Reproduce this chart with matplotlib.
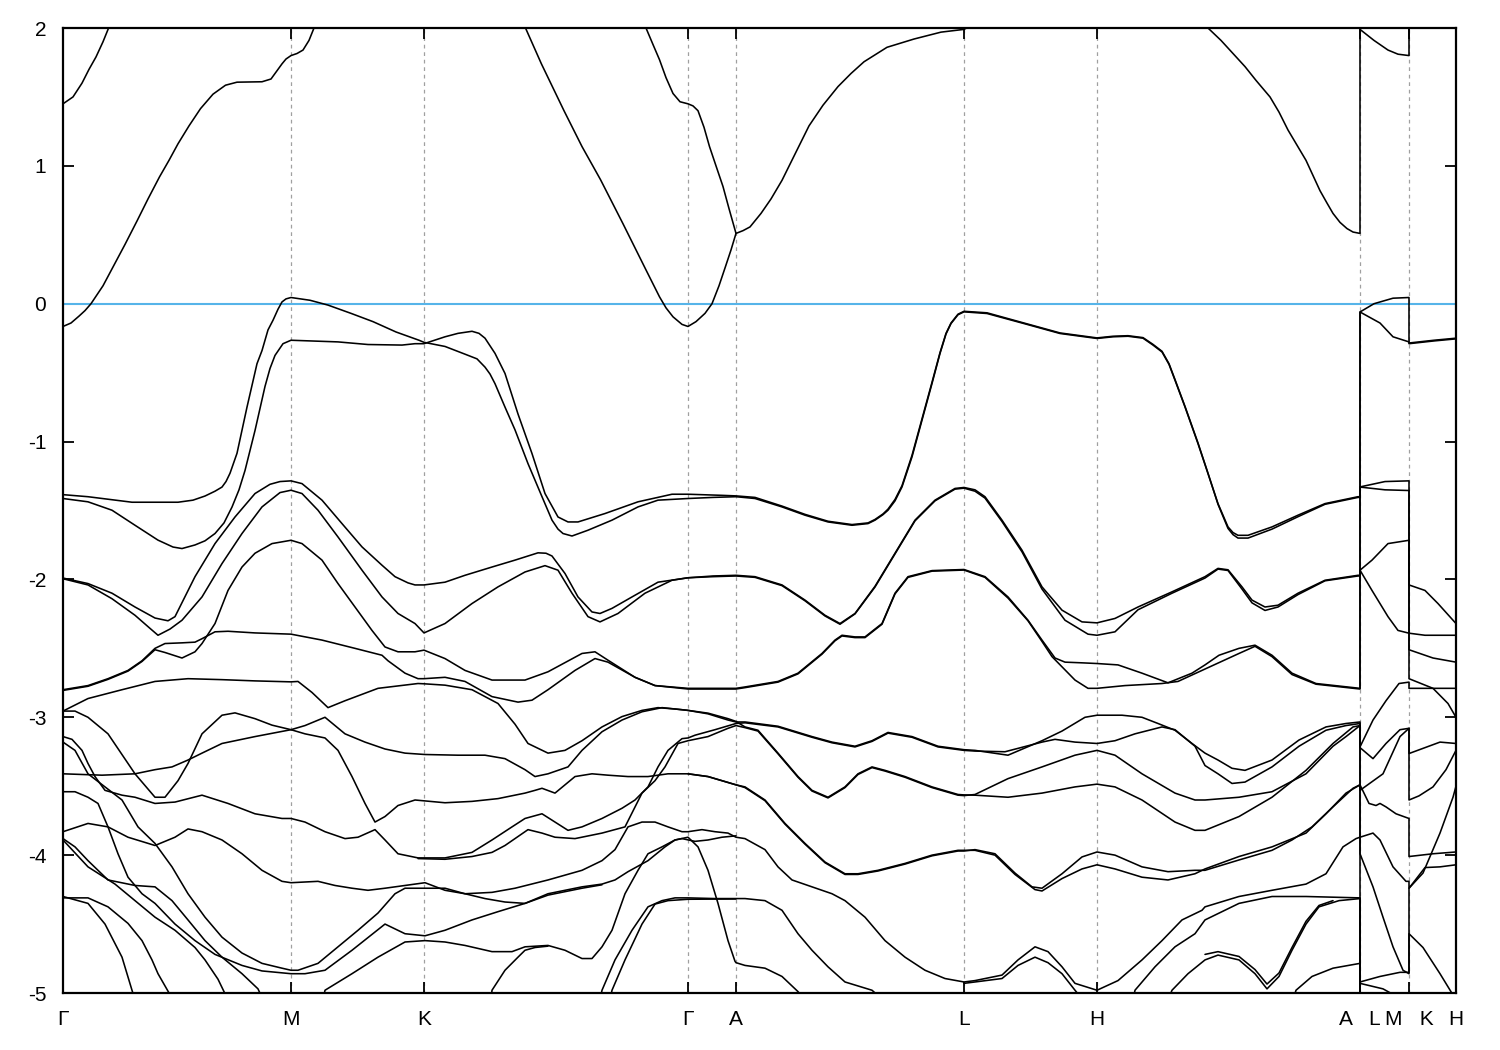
import numpy as np
import matplotlib
matplotlib.use("Agg")
import matplotlib.pyplot as plt

plt.rcParams['font.family'] = ['Liberation Sans', 'DejaVu Sans']

# high-symmetry points along the path (path-length units) and their labels
kpts = [0.0, 2.28, 3.61, 6.25, 6.73, 9.01, 10.34, 12.97, 13.46, 13.93]
klabels = ['Γ', 'M', 'K', 'Γ', 'A', 'L', 'H', 'A   L', 'M   K', 'H']
yticks = [-5, -4, -3, -2, -1, 0, 1, 2]
fermi = 0.0

# ---- band curves: (k, E[eV]) ----
cb0 = [(0, 1.45), (0.10, 1.50), (0.19, 1.60), (0.26, 1.70), (0.33, 1.79), (0.40, 1.90), (0.456, 2.0), (0.52, 2.15)]
cb1 = [(0, -0.165), (0.08, -0.14), (0.16, -0.09), (0.22, -0.05), (0.28, 0.0), (0.40, 0.13), (0.51, 0.28),
       (0.62, 0.43), (0.74, 0.60), (0.85, 0.76), (0.965, 0.92), (1.06, 1.04), (1.15, 1.16), (1.26, 1.29),
       (1.375, 1.415), (1.50, 1.52), (1.625, 1.585), (1.74, 1.607), (1.99, 1.61), (2.08, 1.63), (2.14, 1.69),
       (2.19, 1.74), (2.23, 1.775), (2.28, 1.80), (2.34, 1.815), (2.40, 1.84), (2.46, 1.91), (2.51, 2.0),
       (2.56, 2.2)]
cb2 = [(4.55, 2.2), (4.625, 2.0), (4.784, 1.74), (5.01, 1.40), (5.19, 1.14), (5.375, 0.90), (5.60, 0.58),
       (5.83, 0.245), (5.965, 0.05), (6.03, -0.03), (6.10, -0.095), (6.19, -0.15), (6.25, -0.165), (6.33, -0.13),
       (6.42, -0.07), (6.49, 0.0), (6.56, 0.13), (6.625, 0.27), (6.68, 0.39), (6.73, 0.51), (6.80, 0.53),
       (6.87, 0.557), (6.98, 0.655), (7.08, 0.76), (7.19, 0.895), (7.33, 1.10), (7.46, 1.29), (7.60, 1.44),
       (7.75, 1.575), (7.88, 1.67), (8.01, 1.755), (8.24, 1.86), (8.51, 1.92), (8.78, 1.97), (9.01, 1.99),
       (9.3, 2.1)]
cb3 = [(5.80, 2.2), (5.83, 2.0), (5.90, 1.88), (5.965, 1.77), (6.03, 1.64), (6.10, 1.525), (6.17, 1.465),
       (6.25, 1.45), (6.30, 1.435), (6.35, 1.40), (6.41, 1.28), (6.465, 1.14), (6.53, 1.00), (6.60, 0.85),
       (6.66, 0.69), (6.73, 0.51)]
cb4 = [(11.40, 2.2), (11.45, 2.0), (11.58, 1.91), (11.70, 1.815), (11.82, 1.72), (11.93, 1.62), (12.07, 1.50),
       (12.16, 1.39), (12.25, 1.26), (12.34, 1.15), (12.43, 1.04), (12.50, 0.93), (12.57, 0.82), (12.64, 0.73),
       (12.70, 0.655), (12.77, 0.59), (12.84, 0.545), (12.90, 0.52), (12.97, 0.51), (12.97, 1.99), (13.11, 1.91),
       (13.25, 1.84), (13.35, 1.81), (13.46, 1.80), (13.46, 2.3)]

vb1 = [(0, -1.385), (0.25, -1.40), (0.69, -1.44), (1.15, -1.44), (1.30, -1.425), (1.42, -1.395), (1.52, -1.36),
       (1.59, -1.33), (1.63, -1.29), (1.67, -1.23), (1.74, -1.085), (1.84, -0.75), (1.94, -0.435),
       (1.99, -0.34), (2.05, -0.19), (2.10, -0.12), (2.15, -0.04), (2.19, 0.013), (2.23, 0.035), (2.28, 0.045),
       (2.47, 0.025), (2.65, -0.01), (2.88, -0.07), (3.10, -0.13), (3.33, -0.205), (3.56, -0.265),
       (3.61, -0.28), (3.82, -0.31), (4.02, -0.366), (4.14, -0.40), (4.22, -0.46), (4.27, -0.51), (4.32, -0.58),
       (4.42, -0.75), (4.52, -0.915), (4.65, -1.16), (4.79, -1.40), (4.89, -1.57), (4.95, -1.635), (5.00, -1.667),
       (5.09, -1.685), (5.25, -1.643), (5.49, -1.57), (5.75, -1.474), (5.95, -1.425), (6.25, -1.413),
       (6.50, -1.405), (6.73, -1.40), (6.92, -1.413), (7.19, -1.474), (7.42, -1.534), (7.65, -1.583),
       (7.89, -1.607), (8.05, -1.595), (8.12, -1.57), (8.20, -1.53), (8.25, -1.498), (8.32, -1.43),
       (8.39, -1.329), (8.49, -1.111), (8.59, -0.845), (8.69, -0.579), (8.77, -0.361), (8.83, -0.22),
       (8.88, -0.144), (8.95, -0.08), (9.01, -0.059), (9.24, -0.071), (9.61, -0.144), (9.97, -0.216),
       (10.34, -0.252), (10.50, -0.24), (10.65, -0.236), (10.80, -0.25), (10.90, -0.30), (10.99, -0.35),
       (11.06, -0.44), (11.12, -0.555), (11.22, -0.749), (11.35, -1.015), (11.45, -1.232), (11.55, -1.45),
       (11.65, -1.619), (11.70, -1.66), (11.75, -1.68), (11.85, -1.68), (12.09, -1.619), (12.35, -1.534),
       (12.62, -1.45), (12.95, -1.40), (12.97, -1.40), (12.97, -0.06), (13.11, 0.0), (13.30, 0.04),
       (13.46, 0.045), (13.46, -0.285), (13.71, -0.265), (13.93, -0.25)]
vb2 = [(0, -1.413), (0.25, -1.437), (0.49, -1.498), (0.72, -1.607), (0.95, -1.715), (1.10, -1.765), (1.19, -1.776),
       (1.32, -1.75), (1.42, -1.72), (1.52, -1.667), (1.61, -1.59), (1.69, -1.475), (1.76, -1.35), (1.82, -1.21),
       (1.92, -0.92), (2.02, -0.60), (2.07, -0.47), (2.12, -0.375), (2.20, -0.29), (2.28, -0.265),
       (2.75, -0.277), (3.05, -0.296), (3.39, -0.30), (3.52, -0.29), (3.61, -0.29), (3.82, -0.24), (3.95, -0.215),
       (4.09, -0.20), (4.16, -0.215), (4.22, -0.25), (4.32, -0.36), (4.42, -0.506), (4.55, -0.80), (4.69, -1.087),
       (4.82, -1.377), (4.95, -1.547), (5.05, -1.583), (5.15, -1.583), (5.42, -1.522), (5.75, -1.437),
       (6.09, -1.382), (6.25, -1.382), (6.59, -1.39), (6.73, -1.394), (6.92, -1.405), (7.19, -1.468),
       (7.42, -1.528), (7.65, -1.578), (7.89, -1.602), (8.05, -1.59), (8.12, -1.565), (8.20, -1.525),
       (8.25, -1.49), (8.32, -1.42), (8.39, -1.32), (8.49, -1.10), (8.59, -0.835), (8.69, -0.57), (8.77, -0.355),
       (8.83, -0.215), (8.88, -0.14), (8.95, -0.076), (9.01, -0.055), (9.24, -0.066), (9.61, -0.14),
       (9.97, -0.212), (10.34, -0.248), (10.50, -0.236), (10.65, -0.232), (10.80, -0.246), (10.90, -0.295),
       (10.99, -0.345), (11.06, -0.435), (11.12, -0.55), (11.22, -0.745), (11.35, -1.01), (11.45, -1.23),
       (11.55, -1.455), (11.65, -1.63), (11.70, -1.675), (11.75, -1.70), (11.85, -1.70), (12.09, -1.635),
       (12.35, -1.545), (12.62, -1.455), (12.95, -1.405), (12.97, -1.405), (12.97, -0.06), (13.17, -0.14),
       (13.30, -0.24), (13.46, -0.277), (13.46, -0.29), (13.71, -0.27), (13.93, -0.255)]

d1 = [(0, -1.99), (0.25, -2.03), (0.49, -2.10), (0.72, -2.20), (0.92, -2.28), (1.05, -2.30), (1.12, -2.27),
      (1.32, -1.98), (1.52, -1.74), (1.72, -1.547), (1.92, -1.377), (2.07, -1.31), (2.17, -1.29), (2.28, -1.285),
      (2.39, -1.305), (2.59, -1.425), (2.79, -1.595), (2.99, -1.764), (3.19, -1.897), (3.32, -1.98),
      (3.45, -2.025), (3.52, -2.04), (3.61, -2.04), (3.82, -2.02), (4.02, -1.97), (4.29, -1.91), (4.52, -1.86),
      (4.75, -1.807), (4.83, -1.81), (4.89, -1.83), (5.02, -1.957), (5.15, -2.127), (5.29, -2.236),
      (5.37, -2.247), (5.49, -2.21), (5.69, -2.127), (5.95, -2.02), (6.25, -1.988), (6.50, -1.975),
      (6.73, -1.97), (6.92, -1.98), (7.19, -2.04), (7.42, -2.15), (7.62, -2.26), (7.77, -2.32), (7.92, -2.247),
      (8.12, -2.05), (8.32, -1.81), (8.52, -1.57), (8.72, -1.425), (8.92, -1.34), (9.01, -1.333),
      (9.12, -1.35), (9.22, -1.40), (9.39, -1.57), (9.59, -1.788), (9.79, -2.054), (9.99, -2.223),
      (10.19, -2.308), (10.34, -2.315), (10.52, -2.283), (10.75, -2.2), (11.09, -2.09), (11.42, -1.98),
      (11.55, -1.92), (11.65, -1.93), (11.79, -2.054), (11.89, -2.15), (12.02, -2.2), (12.15, -2.187),
      (12.35, -2.10), (12.62, -2.006), (12.95, -1.97), (12.97, -1.97), (12.97, -1.329), (13.22, -1.29),
      (13.46, -1.285), (13.46, -2.04), (13.62, -2.08), (13.75, -2.175), (13.93, -2.32)]
d2 = [(0, -1.995), (0.25, -2.04), (0.49, -2.14), (0.72, -2.26), (0.87, -2.355), (0.95, -2.405), (1.07, -2.36),
      (1.19, -2.296), (1.39, -2.127), (1.59, -1.885), (1.79, -1.667), (1.99, -1.474), (2.17, -1.37),
      (2.28, -1.353), (2.39, -1.377), (2.55, -1.498), (2.75, -1.692), (2.99, -1.933), (3.19, -2.127),
      (3.35, -2.247), (3.52, -2.32), (3.61, -2.388), (3.82, -2.32), (4.09, -2.175), (4.35, -2.054),
      (4.62, -1.946), (4.82, -1.90), (4.95, -1.933), (5.09, -2.10), (5.25, -2.27), (5.37, -2.308),
      (5.55, -2.247), (5.82, -2.10), (6.09, -2.006), (6.25, -1.988), (6.50, -1.98), (6.73, -1.975),
      (6.92, -1.985), (7.19, -2.045), (7.42, -2.155), (7.62, -2.265), (7.77, -2.325), (7.92, -2.25),
      (8.12, -2.055), (8.32, -1.815), (8.52, -1.575), (8.72, -1.43), (8.92, -1.345), (9.01, -1.338),
      (9.12, -1.36), (9.22, -1.41), (9.39, -1.58), (9.59, -1.80), (9.79, -2.07), (10.02, -2.296),
      (10.25, -2.397), (10.34, -2.405), (10.52, -2.38), (10.75, -2.22), (11.09, -2.10), (11.42, -1.99),
      (11.55, -1.925), (11.65, -1.935), (11.79, -2.07), (11.89, -2.17), (12.02, -2.225), (12.15, -2.20),
      (12.35, -2.11), (12.62, -2.01), (12.95, -1.975), (12.97, -1.975), (12.97, -1.33), (13.22, -1.35),
      (13.46, -1.355), (13.46, -2.39), (13.62, -2.405), (13.93, -2.405)]

f1 = [(0, -2.80), (0.25, -2.77), (0.45, -2.72), (0.65, -2.66), (0.79, -2.59), (0.92, -2.50), (1.02, -2.465),
      (1.19, -2.46), (1.32, -2.455), (1.39, -2.43), (1.52, -2.38), (1.65, -2.376), (1.92, -2.388), (2.28, -2.397),
      (2.59, -2.44), (2.92, -2.50), (3.19, -2.55), (3.25, -2.59), (3.42, -2.68), (3.55, -2.72), (3.61, -2.72),
      (3.82, -2.71), (4.02, -2.74), (4.29, -2.85), (4.55, -2.89), (4.69, -2.876), (4.85, -2.80), (5.12, -2.66),
      (5.32, -2.574), (5.45, -2.60), (5.72, -2.71), (5.92, -2.77), (6.25, -2.79), (6.73, -2.79), (6.82, -2.78),
      (7.15, -2.74), (7.35, -2.68), (7.59, -2.537), (7.72, -2.44), (7.79, -2.405), (7.92, -2.417),
      (8.02, -2.417), (8.19, -2.32), (8.32, -2.10), (8.45, -1.98), (8.69, -1.936), (9.01, -1.928), (9.22, -1.98),
      (9.45, -2.127), (9.65, -2.296), (9.79, -2.44), (9.92, -2.57), (10.02, -2.60), (10.19, -2.605),
      (10.34, -2.61), (10.55, -2.62), (10.79, -2.68), (11.05, -2.75), (11.29, -2.68), (11.42, -2.62),
      (11.56, -2.55), (11.76, -2.50), (11.92, -2.477), (12.09, -2.55), (12.29, -2.68), (12.53, -2.755),
      (12.97, -2.79), (12.97, -1.933), (13.09, -1.86), (13.25, -1.74), (13.46, -1.716), (13.46, -2.51),
      (13.70, -2.57), (13.93, -2.60)]
f2 = [(0, -2.805), (0.25, -2.775), (0.45, -2.725), (0.65, -2.665), (0.79, -2.595), (0.92, -2.51), (1.02, -2.53),
      (1.19, -2.57), (1.32, -2.525), (1.39, -2.465), (1.52, -2.32), (1.65, -2.08), (1.79, -1.91), (1.92, -1.81),
      (2.09, -1.74), (2.28, -1.716), (2.39, -1.74), (2.59, -1.86), (2.75, -2.03), (2.92, -2.2), (3.09, -2.37),
      (3.22, -2.49), (3.35, -2.525), (3.52, -2.525), (3.61, -2.513), (3.82, -2.574), (4.02, -2.66),
      (4.29, -2.73), (4.62, -2.73), (4.85, -2.67), (5.19, -2.537), (5.32, -2.525), (5.45, -2.586),
      (5.72, -2.71), (5.92, -2.77), (6.25, -2.795), (6.73, -2.795), (6.82, -2.785), (7.15, -2.745),
      (7.35, -2.685), (7.59, -2.542), (7.72, -2.445), (7.79, -2.41), (7.92, -2.422), (8.02, -2.422),
      (8.19, -2.325), (8.32, -2.105), (8.45, -1.985), (8.69, -1.94), (9.01, -1.932), (9.22, -1.985),
      (9.45, -2.135), (9.65, -2.30), (9.79, -2.45), (9.89, -2.56), (10.12, -2.73), (10.25, -2.79),
      (10.34, -2.79), (10.62, -2.77), (10.99, -2.755), (11.15, -2.74), (11.42, -2.65), (11.76, -2.537),
      (11.92, -2.485), (12.09, -2.56), (12.29, -2.69), (12.53, -2.76), (12.97, -2.795), (12.97, -1.933),
      (13.09, -2.08), (13.25, -2.27), (13.35, -2.37), (13.46, -2.39), (13.46, -2.72), (13.70, -2.79),
      (13.85, -2.90), (13.93, -3.0)]

h1 = [(0, -2.955), (0.25, -2.864), (0.59, -2.80), (0.92, -2.74), (1.25, -2.72), (1.59, -2.727), (1.92, -2.736),
      (2.28, -2.743), (2.35, -2.74), (2.49, -2.82), (2.65, -2.93), (2.82, -2.88), (3.15, -2.79), (3.55, -2.755),
      (3.61, -2.757), (3.82, -2.767), (4.09, -2.80), (4.35, -2.90), (4.52, -3.05), (4.65, -3.19), (4.85, -3.26),
      (5.02, -3.24), (5.19, -3.17), (5.39, -3.07), (5.59, -2.995), (5.79, -2.95), (5.95, -2.93), (6.12, -2.94),
      (6.25, -2.95), (6.45, -2.975), (6.65, -3.02), (6.73, -3.034), (6.82, -3.034), (7.15, -3.065),
      (7.49, -3.14), (7.69, -3.18), (7.92, -3.21), (8.09, -3.17), (8.25, -3.11), (8.49, -3.14), (8.75, -3.21),
      (9.01, -3.235), (9.12, -3.24), (9.45, -3.275), (9.79, -3.17), (9.99, -3.10), (10.22, -3.0),
      (10.34, -2.985), (10.59, -2.985), (10.79, -3.0), (10.95, -3.045), (11.12, -3.094), (11.29, -3.19),
      (11.42, -3.26), (11.55, -3.31), (11.69, -3.37), (11.82, -3.385), (12.09, -3.31), (12.36, -3.165),
      (12.63, -3.07), (12.83, -3.045), (12.97, -3.034), (12.97, -3.215), (13.10, -3.02), (13.23, -2.88),
      (13.36, -2.755), (13.46, -2.745), (13.46, -2.79), (13.93, -2.79)]
h2 = [(0, -2.955), (0.12, -2.955), (0.25, -3.0), (0.45, -3.12), (0.72, -3.41), (0.92, -3.58), (1.02, -3.58),
      (1.15, -3.46), (1.25, -3.335), (1.39, -3.12), (1.59, -2.985), (1.72, -2.968), (1.92, -3.01), (2.09, -3.057),
      (2.28, -3.09), (2.42, -3.06), (2.62, -3.00), (2.82, -3.12), (3.02, -3.18), (3.22, -3.23), (3.42, -3.26),
      (3.62, -3.27), (3.95, -3.275), (4.22, -3.275), (4.42, -3.30), (4.62, -3.38), (4.72, -3.43), (4.85, -3.41),
      (5.05, -3.36), (5.19, -3.24), (5.39, -3.105), (5.59, -3.02), (5.79, -2.96), (5.99, -2.93), (6.19, -2.945),
      (6.25, -2.95), (6.45, -2.97), (6.65, -3.01), (6.73, -3.03), (6.82, -3.07), (6.95, -3.094), (7.15, -3.26),
      (7.35, -3.43), (7.49, -3.53), (7.65, -3.58), (7.82, -3.505), (7.95, -3.41), (8.09, -3.36), (8.22, -3.385),
      (8.42, -3.43), (8.69, -3.505), (8.95, -3.56), (9.01, -3.563), (9.12, -3.565), (9.45, -3.58),
      (9.79, -3.55), (10.12, -3.505), (10.34, -3.485), (10.52, -3.505), (10.79, -3.60), (11.12, -3.76),
      (11.32, -3.82), (11.42, -3.82), (11.76, -3.72), (12.09, -3.58), (12.43, -3.385), (12.70, -3.19),
      (12.90, -3.07), (12.97, -3.06), (12.97, -3.22), (13.10, -3.30), (13.23, -3.19), (13.37, -3.09),
      (13.46, -3.08), (13.46, -3.263), (13.77, -3.18), (13.93, -3.19)]
h3 = [(0, -3.41), (0.39, -3.42), (0.72, -3.41), (0.92, -3.38), (1.09, -3.36), (1.25, -3.31), (1.39, -3.26),
      (1.59, -3.19), (1.92, -3.14), (2.28, -3.09), (2.42, -3.12), (2.62, -3.15), (2.75, -3.24), (2.89, -3.43),
      (3.02, -3.625), (3.12, -3.76), (3.22, -3.72), (3.35, -3.64), (3.52, -3.60), (3.82, -3.62), (4.09, -3.61),
      (4.35, -3.59), (4.62, -3.55), (4.72, -3.53), (4.79, -3.515), (4.92, -3.55), (5.12, -3.43), (5.29, -3.41),
      (5.45, -3.42), (5.65, -3.43), (5.85, -3.43), (6.05, -3.41), (6.25, -3.41), (6.45, -3.43), (6.73, -3.49),
      (6.82, -3.505), (7.02, -3.60), (7.22, -3.77), (7.42, -3.915), (7.62, -4.05), (7.82, -4.135),
      (7.95, -4.135), (8.15, -4.11), (8.42, -4.06), (8.69, -4.0), (8.95, -3.965), (9.01, -3.965),
      (9.12, -3.965), (9.32, -4.0), (9.52, -4.14), (9.72, -4.25), (9.79, -4.26), (9.99, -4.17), (10.19, -4.10),
      (10.34, -4.07), (10.52, -4.10), (10.79, -4.16), (11.05, -4.18), (11.32, -4.135), (11.42, -4.10),
      (11.76, -4.01), (12.09, -3.94), (12.43, -3.84), (12.63, -3.70), (12.83, -3.55), (12.97, -3.49),
      (12.97, -3.87), (13.10, -3.84), (13.17, -3.89), (13.30, -4.085), (13.43, -4.19), (13.46, -4.19),
      (13.46, -4.24), (13.60, -4.13), (13.77, -3.84), (13.90, -3.58), (13.93, -3.50)]
h4 = [(0, -3.14), (0.09, -3.16), (0.19, -3.24), (0.25, -3.335), (0.32, -3.43), (0.42, -3.53), (0.59, -3.565),
      (0.72, -3.58), (0.92, -3.625), (1.12, -3.615), (1.39, -3.565), (1.65, -3.625), (1.92, -3.70),
      (2.19, -3.734), (2.28, -3.734), (2.42, -3.76), (2.62, -3.83), (2.82, -3.88), (2.95, -3.87), (3.12, -3.815),
      (3.22, -3.89), (3.35, -3.99), (3.55, -4.02), (3.82, -4.02), (4.09, -3.98), (4.29, -3.89), (4.49, -3.795),
      (4.62, -3.734), (4.69, -3.72), (4.79, -3.70), (4.92, -3.76), (5.05, -3.82), (5.19, -3.795), (5.39, -3.734),
      (5.59, -3.66), (5.72, -3.60), (5.85, -3.505), (5.95, -3.36), (6.05, -3.24), (6.19, -3.155), (6.25, -3.15),
      (6.32, -3.13), (6.52, -3.09), (6.73, -3.045), (6.82, -3.04), (7.15, -3.07), (7.49, -3.145), (7.69, -3.185),
      (7.92, -3.215), (8.09, -3.175), (8.25, -3.115), (8.49, -3.145), (8.75, -3.215), (9.01, -3.24),
      (9.12, -3.245), (9.42, -3.25), (9.79, -3.18), (9.92, -3.16), (10.12, -3.18), (10.34, -3.19),
      (10.52, -3.17), (10.72, -3.12), (10.99, -3.07), (11.12, -3.09), (11.32, -3.21), (11.42, -3.35),
      (11.55, -3.41), (11.69, -3.48), (11.82, -3.47), (12.09, -3.36), (12.36, -3.21), (12.63, -3.094),
      (12.83, -3.06), (12.97, -3.045), (12.97, -3.49), (13.06, -3.625), (13.13, -3.64), (13.17, -3.625),
      (13.23, -3.65), (13.33, -3.70), (13.46, -3.734), (13.46, -4.01), (13.70, -3.99), (13.93, -3.977)]
h5 = [(3.55, -4.025), (3.82, -4.03), (4.09, -4.01), (4.29, -3.98), (4.42, -3.93), (4.52, -3.88), (4.65, -3.815),
      (4.79, -3.84), (4.92, -3.87), (5.12, -3.88), (5.39, -3.84), (5.62, -3.795), (5.79, -3.55), (5.92, -3.46),
      (6.02, -3.36), (6.15, -3.19), (6.25, -3.17), (6.45, -3.14), (6.65, -3.08), (6.73, -3.06), (6.82, -3.075),
      (6.95, -3.10), (7.15, -3.265), (7.35, -3.435), (7.49, -3.535), (7.65, -3.585), (7.82, -3.51),
      (7.95, -3.415), (8.09, -3.365), (8.22, -3.39), (8.42, -3.435), (8.69, -3.51), (8.95, -3.565),
      (9.01, -3.568), (9.12, -3.56), (9.45, -3.445), (9.79, -3.36), (10.12, -3.275), (10.34, -3.24),
      (10.52, -3.275), (10.79, -3.41), (11.12, -3.55), (11.32, -3.60), (11.42, -3.60), (11.76, -3.58),
      (12.09, -3.54), (12.43, -3.41), (12.70, -3.21), (12.83, -3.14), (12.97, -3.06), (12.97, -3.53),
      (13.20, -3.41), (13.37, -3.14), (13.46, -3.08), (13.46, -3.60), (13.56, -3.57), (13.70, -3.505),
      (13.83, -3.38), (13.93, -3.24)]
h6 = [(6.25, -3.41), (6.45, -3.43), (6.73, -3.49), (6.82, -3.51), (7.02, -3.605), (7.22, -3.775), (7.42, -3.92),
      (7.62, -4.055), (7.82, -4.14), (7.95, -4.14), (8.15, -4.115), (8.42, -4.065), (8.69, -4.005),
      (8.95, -3.97), (9.01, -3.97), (9.12, -3.96), (9.32, -3.99), (9.52, -4.13), (9.69, -4.23), (9.79, -4.24),
      (9.99, -4.135), (10.19, -4.013), (10.34, -3.977), (10.52, -4.0), (10.79, -4.085), (11.05, -4.12),
      (11.32, -4.11), (11.42, -4.11), (11.76, -4.035), (12.09, -3.965), (12.29, -3.89), (12.49, -3.795),
      (12.70, -3.65), (12.90, -3.515), (12.97, -3.49), (12.97, -3.99), (13.10, -4.23), (13.20, -4.45),
      (13.30, -4.665), (13.40, -4.835), (13.46, -4.86), (13.46, -4.24), (13.62, -4.09), (13.77, -4.085),
      (13.93, -4.07)]

j1 = [(0, -3.83), (0.25, -3.77), (0.45, -3.795), (0.65, -3.87), (0.92, -3.93), (1.12, -3.87), (1.25, -3.81),
      (1.39, -3.83), (1.59, -3.89), (1.79, -3.99), (1.99, -4.11), (2.19, -4.19), (2.28, -4.20), (2.55, -4.19),
      (2.72, -4.22), (2.89, -4.24), (3.05, -4.255), (3.22, -4.24), (3.42, -4.22), (3.62, -4.20), (3.82, -4.255),
      (4.02, -4.28), (4.29, -4.27), (4.52, -4.24), (4.85, -4.18), (5.19, -4.11), (5.39, -4.04), (5.52, -3.96),
      (5.65, -3.795), (5.79, -3.76), (5.92, -3.76), (6.05, -3.795), (6.19, -3.83), (6.25, -3.83), (6.39, -3.815),
      (6.52, -3.83), (6.65, -3.84), (6.73, -3.87), (6.82, -3.88), (7.02, -3.96), (7.15, -4.085), (7.29, -4.18),
      (7.49, -4.23), (7.69, -4.28), (7.82, -4.33), (8.02, -4.45), (8.22, -4.62), (8.42, -4.74), (8.62, -4.835),
      (8.82, -4.895), (9.01, -4.92), (9.12, -4.91), (9.39, -4.87), (9.55, -4.76), (9.72, -4.665), (9.85, -4.70),
      (9.99, -4.81), (10.12, -4.93), (10.34, -4.98), (10.55, -4.91), (10.79, -4.76), (10.99, -4.62),
      (11.19, -4.47), (11.39, -4.40), (11.42, -4.375), (11.76, -4.30), (12.09, -4.255), (12.43, -4.21),
      (12.63, -4.135), (12.80, -3.94), (12.93, -3.88), (12.97, -3.87), (12.97, -4.92), (13.17, -4.88),
      (13.37, -4.85), (13.46, -4.85), (13.46, -4.57), (13.60, -4.67), (13.77, -4.86), (13.93, -5.05)]
j2 = [(9.01, -4.93), (9.12, -4.92), (9.39, -4.895), (9.55, -4.80), (9.72, -4.74), (9.85, -4.78), (9.99, -4.86),
      (10.12, -4.98), (10.2, -5.05)]
j3 = [(10.70, -5.05), (10.72, -4.98), (10.92, -4.81), (11.12, -4.665), (11.32, -4.57), (11.42, -4.47),
      (11.76, -4.35), (12.09, -4.30), (12.43, -4.30), (12.97, -4.31), (12.97, -4.93), (13.20, -4.97),
      (13.40, -5.05)]
j4 = [(11.05, -5.05), (11.09, -4.98), (11.25, -4.86), (11.42, -4.76), (11.55, -4.725), (11.76, -4.76),
      (11.92, -4.86), (12.04, -4.97), (12.16, -4.88), (12.29, -4.69), (12.43, -4.50), (12.56, -4.375),
      (12.76, -4.33), (12.97, -4.315), (12.97, -5.05)]
j5 = [(11.42, -4.72), (11.55, -4.70), (11.76, -4.735), (11.92, -4.83), (12.04, -4.935), (12.16, -4.855),
      (12.29, -4.67), (12.43, -4.48), (12.56, -4.365), (12.70, -4.33)]
j6 = [(12.30, -5.05), (12.33, -4.98), (12.49, -4.88), (12.70, -4.82), (12.97, -4.785), (12.97, -5.05)]

k1 = [(5.37, -5.05), (5.39, -4.98), (5.52, -4.76), (5.69, -4.545), (5.85, -4.375), (5.99, -4.33), (6.12, -4.31),
      (6.25, -4.31), (6.52, -4.315), (6.73, -4.315), (6.82, -4.315), (7.02, -4.33), (7.19, -4.40), (7.35, -4.57),
      (7.49, -4.69), (7.65, -4.81), (7.82, -4.92), (8.09, -4.98), (8.2, -5.05)]
k2 = [(5.47, -5.05), (5.49, -4.98), (5.62, -4.76), (5.79, -4.50), (5.92, -4.355), (6.05, -4.33), (6.25, -4.32),
      (6.73, -4.318)]
s3 = [(2.60, -5.05), (2.62, -4.98), (2.89, -4.86), (3.15, -4.74), (3.42, -4.63), (3.62, -4.62), (3.82, -4.63),
      (4.02, -4.655), (4.29, -4.70), (4.49, -4.70), (4.62, -4.665), (4.85, -4.655), (5.02, -4.69), (5.19, -4.75),
      (5.29, -4.75), (5.39, -4.665), (5.49, -4.545), (5.62, -4.28), (5.75, -4.11), (5.85, -3.99), (5.99, -3.94),
      (6.12, -3.89), (6.25, -3.87), (6.35, -3.94), (6.45, -4.11), (6.55, -4.35), (6.65, -4.62), (6.72, -4.77),
      (6.73, -4.78), (6.82, -4.80), (7.02, -4.82), (7.19, -4.88), (7.35, -4.99), (7.42, -5.05)]
s8 = [(4.28, -5.05), (4.29, -4.98), (4.42, -4.835), (4.55, -4.74), (4.62, -4.69), (4.72, -4.67), (4.85, -4.66)]
s1 = [(0, -3.18), (0.12, -3.24), (0.25, -3.41), (0.42, -3.505), (0.59, -3.60), (0.75, -3.795), (0.92, -3.915),
      (1.09, -4.085), (1.25, -4.28), (1.42, -4.45), (1.59, -4.595), (1.79, -4.71), (1.99, -4.785), (2.19, -4.82),
      (2.28, -4.835), (2.35, -4.835), (2.55, -4.785), (2.75, -4.665), (2.95, -4.545), (3.15, -4.42),
      (3.32, -4.28), (3.42, -4.24), (3.62, -4.24), (3.82, -4.24), (4.02, -4.28), (4.22, -4.315), (4.42, -4.34),
      (4.62, -4.35), (4.85, -4.28), (5.19, -4.23), (5.39, -4.21), (5.52, -4.18), (5.65, -4.12), (5.85, -4.04),
      (6.02, -3.94), (6.12, -3.89), (6.19, -3.88), (6.32, -3.90), (6.45, -3.89), (6.59, -3.87), (6.73, -3.86)]
s4 = [(0, -3.54), (0.12, -3.54), (0.25, -3.58), (0.35, -3.625), (0.45, -3.795), (0.55, -3.99), (0.65, -4.16),
      (0.79, -4.28), (0.92, -4.35), (1.12, -4.50), (1.32, -4.62), (1.52, -4.72), (1.79, -4.80), (1.99, -4.84),
      (2.28, -4.86), (2.42, -4.86), (2.62, -4.835), (2.89, -4.69), (3.22, -4.50), (3.42, -4.57), (3.62, -4.585),
      (3.82, -4.545), (4.09, -4.47), (4.35, -4.41), (4.62, -4.35), (4.85, -4.29), (5.19, -4.24), (5.39, -4.215)]
s2 = [(0, -3.88), (0.12, -3.94), (0.25, -4.04), (0.45, -4.18), (0.72, -4.22), (0.92, -4.23), (1.09, -4.33),
      (1.25, -4.47), (1.42, -4.62), (1.59, -4.74), (1.79, -4.86), (1.95, -4.97), (2.0, -5.05)]
s5 = [(0, -3.89), (0.25, -4.085), (0.52, -4.21), (0.72, -4.33), (0.92, -4.45), (1.12, -4.545), (1.32, -4.67),
      (1.42, -4.76), (1.55, -4.9), (1.65, -5.05)]
s6 = [(0, -4.30), (0.25, -4.35), (0.42, -4.50), (0.59, -4.74), (0.69, -4.98), (0.72, -5.05)]
s7 = [(0, -4.31), (0.25, -4.31), (0.45, -4.375), (0.65, -4.495), (0.79, -4.62), (0.89, -4.76), (0.95, -4.86),
      (1.10, -5.05)]

bands = [cb0, cb1, cb2, cb3, cb4, vb1, vb2, d1, d2, f1, f2, h1, h2, h3, h4, h5, h6,
         j1, j2, j3, j4, j5, j6, k1, k2, s3, s8, s1, s4, s2, s5, s6, s7]

# ---- figure ----
fig = plt.figure(figsize=(15, 10.5), dpi=100)
ax = fig.add_axes([63 / 1500, 1 - 993 / 1050, (1456 - 63) / 1500, (993 - 28) / 1050])

for kx in kpts[1:-1]:
    ax.axvline(kx, color='#a0a0a0', lw=0.9, ls=(0, (3, 3)), zorder=1)
ax.axhline(fermi, color='#56b4e9', lw=1.5, zorder=2)

for b in bands:
    arr = np.array(b)
    ax.plot(arr[:, 0], arr[:, 1], color='black', lw=1.15, zorder=3,
            solid_joinstyle='round', solid_capstyle='round')

ax.set_xlim(kpts[0], kpts[-1])
ax.set_ylim(-5, 2)
ax.set_xticks(kpts)
ax.set_xticklabels(klabels)
ax.set_yticks(yticks)
ax.set_yticklabels([str(v) for v in yticks])
ax.tick_params(direction='in', length=8, width=1.3, top=True, right=True, labelsize=15, pad=12, colors='black')
for s in ax.spines.values():
    s.set_linewidth(1.6)

fig.savefig('out.png', dpi=100)
